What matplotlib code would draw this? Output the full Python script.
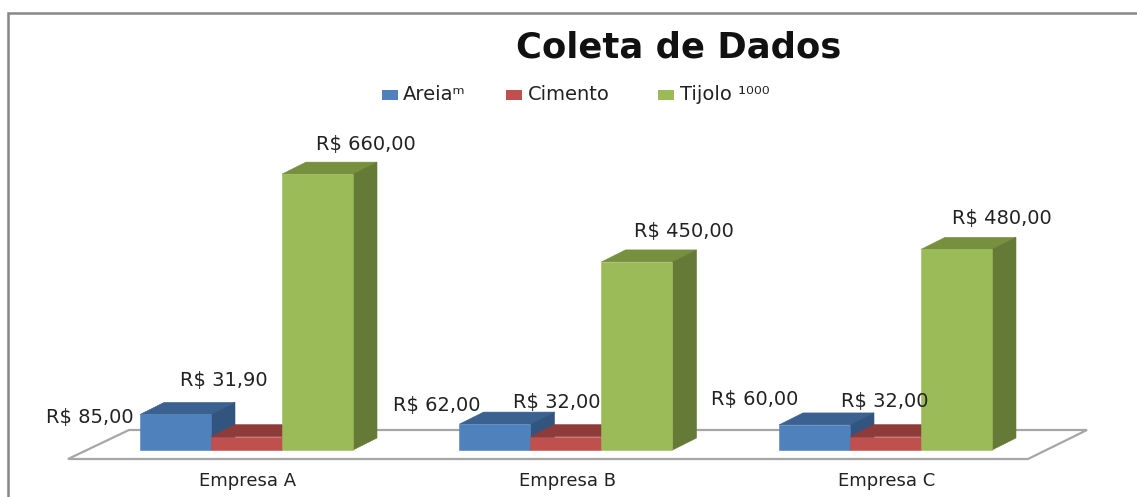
import matplotlib
matplotlib.use("Agg")
import matplotlib.pyplot as plt
from matplotlib.patches import Polygon, Rectangle
from matplotlib.transforms import ScaledTranslation

W, H = 1137, 497
title = "Coleta de Dados"
categories = ["Empresa A", "Empresa B", "Empresa C"]
series_names = ["Areiaᵐ", "Cimento", "Tijolo ¹⁰⁰⁰"]
areia = [85.0, 62.0, 60.0]
cimento = [31.9, 32.0, 32.0]
tijolo = [660.0, 450.0, 480.0]
labels_areia = ["R$ 85,00", "R$ 62,00", "R$ 60,00"]
labels_cimento = ["R$ 31,90", "R$ 32,00", "R$ 32,00"]
labels_tijolo = ["R$ 660,00", "R$ 450,00", "R$ 480,00"]

front = ["#4F81BD", "#C0504D", "#9BBB59"]
top = ["#3A6190", "#8F3B39", "#76903F"]
side = ["#31557F", "#7A3230", "#647A36"]
FONT = ["DejaVu Sans"]
TXT = "#222222"

fig = plt.figure(figsize=(W / 100, H / 100), dpi=100, facecolor="white")
ax = fig.add_axes([0, 0, 1, 1])
PX_X = 319.5      # px per category
PX_Y = 0.418      # px per unit
CX0 = 246.5
ax.set_xlim(-CX0 / PX_X, (W - CX0) / PX_X)
ax.set_ylim(-(H - 450) / PX_Y, 450 / PX_Y)
ax.axis("off")

bw = 71 / PX_X
dx = 24 / PX_X
dy = 12 / PX_Y

# chart frame
ax.plot([8 / W, 8 / W, 1], [0, 1 - 13 / H, 1 - 13 / H], transform=ax.transAxes,
        color="#868686", lw=1.8, solid_joinstyle="miter", clip_on=False)

# floor
fy0 = -9 / PX_Y
fy1 = 20 / PX_Y
fl = (-178.5 / PX_X, 781.5 / PX_X, 840.5 / PX_X, -117.5 / PX_X)
ax.add_patch(Polygon([(fl[0], fy0), (fl[1], fy0), (fl[2], fy1), (fl[3], fy1)], closed=True,
                     fc="white", ec="#A6A6A6", lw=1.6, zorder=1))

series = [areia, cimento, tijolo]
for s, vals in enumerate(series):
    offs = (s - 1) * bw
    for i, v in enumerate(vals):
        x0 = i + offs - bw / 2
        x1 = x0 + bw
        z = 2 + s
        ax.add_patch(Polygon([(x0, v), (x1, v), (x1 + dx, v + dy), (x0 + dx, v + dy)],
                             closed=True, fc=top[s], ec=top[s], lw=0.4, zorder=z))
        ax.add_patch(Polygon([(x1, 0), (x1 + dx, dy), (x1 + dx, v + dy), (x1, v)],
                             closed=True, fc=side[s], ec=side[s], lw=0.4, zorder=z))
        ax.add_patch(Rectangle((x0, 0), bw, v, fc=front[s], ec=front[s], lw=0.4, zorder=z + 0.2))

def px(dxp, dyp):
    return ScaledTranslation(dxp / 100, dyp / 100, fig.dpi_scale_trans)

LS = 14
off_a = ([-85.5, -58, -59.5], [-3.5, 19, 25])
off_c = ([-22.5, -9, -0.5], [55.7, 34.6, 35.6])
off_t = ([48.5, 47, 45.5], [30, 30, 31])
for i in range(3):
    ax.text(i - bw, areia[i], labels_areia[i], family=FONT, fontsize=LS, color=TXT, ha="center", va="center",
            transform=ax.transData + px(off_a[0][i], off_a[1][i]), zorder=10)
    ax.text(i, cimento[i], labels_cimento[i], family=FONT, fontsize=LS, color=TXT, ha="center", va="center",
            transform=ax.transData + px(off_c[0][i], off_c[1][i]), zorder=10)
    ax.text(i + bw, tijolo[i], labels_tijolo[i], family=FONT, fontsize=LS, color=TXT, ha="center", va="center",
            transform=ax.transData + px(off_t[0][i], off_t[1][i]), zorder=10)
    ax.text(i + 1.5 / PX_X, -31 / PX_Y, categories[i], family=FONT, fontsize=13, color=TXT, ha="center", va="center", zorder=10)

ax.text(679 / W, 1 - 47 / H, title, transform=ax.transAxes, family=FONT, fontsize=25.5,
        fontweight="bold", color="#111111", ha="center", va="center")

# legend
leg_sw = [382, 506, 658]
leg_tx = [403, 528, 680]
for s, name in enumerate(series_names):
    ax.add_patch(Rectangle((leg_sw[s] / W, 1 - 100 / H), 16 / W, 10 / H, transform=ax.transAxes,
                           fc=front[s], ec="none", zorder=10))
    ax.text(leg_tx[s] / W, 1 - 94 / H, name, transform=ax.transAxes, family=FONT, fontsize=14,
            color=TXT, ha="left", va="center", zorder=10)

fig.savefig("out.png", dpi=100)
